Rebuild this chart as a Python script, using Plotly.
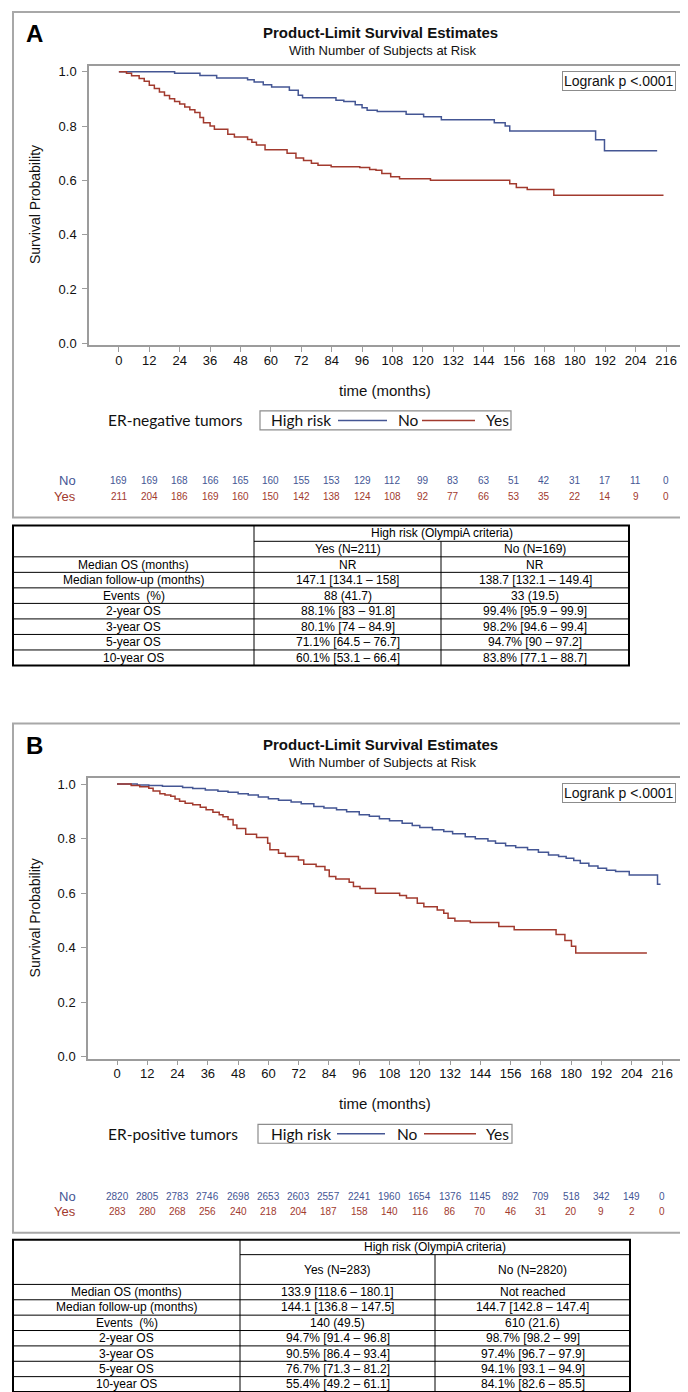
import plotly.graph_objects as go

W, H = 688, 1392

# ---------------- data ----------------
month_ticks = [0, 12, 24, 36, 48, 60, 72, 84, 96, 108, 120, 132, 144, 156, 168, 180, 192, 204, 216]

# Panel A (ER-negative) Kaplan-Meier steps
a_no_t = [0, 22, 32, 38.6, 50.8, 53.4, 57, 60.3, 67.3, 70.8, 72.5, 85.7, 88.8, 93.3, 96, 98, 102,
          113.4, 120.3, 127.3, 148.2, 152.5, 154.3, 188.2, 191.7, 212.5]
a_no_s = [1.0, 0.994, 0.986, 0.977, 0.97, 0.962, 0.952, 0.944, 0.932, 0.913, 0.904, 0.895, 0.89, 0.878,
          0.867, 0.858, 0.853, 0.843, 0.834, 0.823, 0.812, 0.80, 0.782, 0.749, 0.709, 0.709]
a_yes_t = [0, 3, 5, 8, 10, 12, 14, 16, 18, 20, 22, 24, 26, 28, 30, 32, 33.4, 36, 37.7, 43, 45.6, 50.8,
           52.5, 54.3, 57.7, 66.4, 69.9, 72.9, 76, 78.6, 83.8, 95.1, 99, 101.5, 103.8, 107.3, 110.8,
           123, 154.3, 156.9, 161.2, 171.7, 215]
a_yes_s = [1.0, 0.994, 0.985, 0.975, 0.965, 0.95, 0.938, 0.925, 0.912, 0.90, 0.89, 0.881, 0.87, 0.86,
           0.85, 0.831, 0.812, 0.80, 0.788, 0.77, 0.76, 0.75, 0.74, 0.73, 0.713, 0.70, 0.682, 0.673,
           0.663, 0.656, 0.65, 0.647, 0.64, 0.637, 0.625, 0.613, 0.606, 0.60, 0.587, 0.574, 0.566,
           0.545, 0.545]

# Panel B (ER-positive)
b_no_t = [0, 8, 12.6, 18, 26, 30, 35, 40, 44, 48, 52, 56, 60, 64, 69, 73, 78, 82, 87, 91, 96, 100,
          104, 108, 113, 117, 120, 125, 129.5, 133, 138, 142, 147, 150, 154, 158, 162.7, 167, 171,
          175, 178, 181, 183.6, 187, 190.6, 194, 197.6, 203, 214.2, 215.4]
b_no_s = [1.0, 0.997, 0.995, 0.992, 0.988, 0.984, 0.978, 0.974, 0.97, 0.965, 0.96, 0.953, 0.946,
          0.941, 0.934, 0.928, 0.918, 0.912, 0.906, 0.899, 0.888, 0.882, 0.873, 0.866, 0.856, 0.848,
          0.841, 0.833, 0.826, 0.818, 0.807, 0.80, 0.791, 0.783, 0.774, 0.767, 0.759, 0.75, 0.74,
          0.734, 0.728, 0.72, 0.71, 0.70, 0.691, 0.684, 0.679, 0.667, 0.633, 0.633]
b_yes_t = [0, 5.6, 9, 12.6, 14.3, 17, 19, 21.3, 23, 24.8, 27, 30, 33, 35.3, 38, 40.5, 42, 44, 46,
           47.5, 51, 55.3, 59.7, 60.6, 64, 66.7, 71.9, 74, 78.9, 82.4, 84.1, 86.7, 92, 93.7, 96.3,
           102.4, 112, 114.7, 119, 121.6, 126.9, 129.5, 131.2, 133.9, 140, 151.3, 157.4, 174, 177.5,
           180.1, 181.8, 210]
b_yes_s = [1.0, 0.995, 0.99, 0.985, 0.975, 0.965, 0.96, 0.955, 0.945, 0.937, 0.93, 0.924, 0.915,
           0.906, 0.897, 0.888, 0.88, 0.87, 0.85, 0.837, 0.816, 0.804, 0.783, 0.759, 0.746, 0.734,
           0.722, 0.706, 0.698, 0.685, 0.661, 0.652, 0.64, 0.624, 0.617, 0.60, 0.591, 0.582, 0.563,
           0.55, 0.538, 0.526, 0.508, 0.498, 0.492, 0.478, 0.466, 0.448, 0.426, 0.405, 0.38, 0.38]

# numbers at risk
a_risk_no = [169, 169, 168, 166, 165, 160, 155, 153, 129, 112, 99, 83, 63, 51, 42, 31, 17, 11, 0]
a_risk_yes = [211, 204, 186, 169, 160, 150, 142, 138, 124, 108, 92, 77, 66, 53, 35, 22, 14, 9, 0]
b_risk_no = [2820, 2805, 2783, 2746, 2698, 2653, 2603, 2557, 2241, 1960, 1654, 1376, 1145, 892, 709,
             518, 342, 149, 0]
b_risk_yes = [283, 280, 268, 256, 240, 218, 204, 187, 158, 140, 116, 86, 70, 46, 31, 20, 9, 2, 0]

# tables
row_labels = ["Median OS (months)", "Median follow-up (months)", "Events  (%)", "2-year OS",
              "3-year OS", "5-year OS", "10-year OS"]
a_yes_col = ["NR", "147.1 [134.1 – 158]", "88 (41.7)", "88.1% [83 – 91.8]", "80.1% [74 – 84.9]",
             "71.1% [64.5 – 76.7]", "60.1% [53.1 – 66.4]"]
a_no_col = ["NR", "138.7 [132.1 – 149.4]", "33 (19.5)", "99.4% [95.9 – 99.9]", "98.2% [94.6 – 99.4]",
            "94.7% [90 – 97.2]", "83.8% [77.1 – 88.7]"]
b_yes_col = ["133.9 [118.6 – 180.1]", "144.1 [136.8 – 147.5]", "140 (49.5)", "94.7% [91.4 – 96.8]",
             "90.5% [86.4 – 93.4]", "76.7% [71.3 – 81.2]", "55.4% [49.2 – 61.1]"]
b_no_col = ["Not reached", "144.7 [142.8 – 147.4]", "610 (21.6)", "98.7% [98.2 – 99]",
            "97.4% [96.7 – 97.9]", "94.1% [93.1 – 94.9]", "84.1% [82.6 – 85.5]"]
table_group = "High risk (OlympiA criteria)"
a_headers = ["Yes (N=211)", "No (N=169)"]
b_headers = ["Yes (N=283)", "No (N=2820)"]

# ---------------- styling ----------------
BLUE = "#445694"
RED = "#A23A2E"
GRAY = "#9c9c9c"
SANS = "Liberation Sans, Arial, sans-serif"
CAL = "Lato, Carlito, Calibri, sans-serif"


def px(x):
    return min(1.0, max(0.0, x / W))


def py(y):
    return min(1.0, max(0.0, 1 - y / H))


ann = []
shapes = []


def text(t, x, y, size, color="#111", family=SANS, xanchor="center", yanchor="middle",
         xref="paper", yref="paper", **kw):
    ann.append(dict(text=t, x=x, y=y, xref=xref, yref=yref, xanchor=xanchor, yanchor=yanchor,
                    showarrow=False, font=dict(family=family, size=size, color=color), **kw))


fig = go.Figure()

# curves
for t, s, name, col, xa, ya in [
    (a_no_t, a_no_s, "No", BLUE, "x", "y"),
    (a_yes_t, a_yes_s, "Yes", RED, "x", "y"),
    (b_no_t, b_no_s, "No", BLUE, "x2", "y2"),
    (b_yes_t, b_yes_s, "Yes", RED, "x2", "y2"),
]:
    fig.add_trace(go.Scatter(x=t, y=s, mode="lines", name=name, showlegend=False,
                             line=dict(shape="hv", color=col, width=1.5),
                             xaxis=xa, yaxis=ya, hoverinfo="skip"))

axis_common = dict(showline=True, mirror=True, linecolor=GRAY, linewidth=1.5, ticks="outside",
                   ticklen=5, tickcolor=GRAY, showgrid=False, zeroline=False, fixedrange=True,
                   tickfont=dict(family=SANS, size=13, color="#111"))
hidden = dict(visible=False, fixedrange=True, showgrid=False, zeroline=False)

layout = dict(
    width=W, height=H, margin=dict(l=0, r=0, t=0, b=0),
    paper_bgcolor="white", plot_bgcolor="white", showlegend=False,
    xaxis=dict(domain=[px(81), px(675)], range=[-11.8, 222.7], tickvals=month_ticks,
               anchor="y", ticklabelstandoff=-3, **axis_common),
    yaxis=dict(domain=[py(338), py(57)], range=[-0.0073, 1.022], tickvals=[0, 0.2, 0.4, 0.6, 0.8, 1.0],
               tickformat=".1f", anchor="x", ticklabelstandoff=3, **axis_common),
    xaxis2=dict(domain=[px(80), px(676)], range=[-11.5, 224.7], tickvals=month_ticks,
                anchor="y2", ticklabelstandoff=-3, **axis_common),
    yaxis2=dict(domain=[py(1055), py(773)], range=[-0.0073, 1.022], tickvals=[0, 0.2, 0.4, 0.6, 0.8, 1.0],
                tickformat=".1f", anchor="x2", ticklabelstandoff=3, **axis_common),
)


# ---------------- tables drawn on their own (hidden) axes, 1 unit = 1 px ----------------
def add_table(k, left, top, col_w, row_h, headers, yes_col, no_col):
    xa, ya = "x%d" % k, "y%d" % k
    total_w = sum(col_w)
    total_h = sum(row_h)
    layout["xaxis%d" % k] = dict(domain=[px(left - 2), px(left + total_w + 2)],
                                 range=[-2, total_w + 2], anchor=ya, **hidden)
    layout["yaxis%d" % k] = dict(domain=[py(top + total_h + 2), py(top - 2)],
                                 range=[total_h + 2, -2], anchor=xa, **hidden)
    cx = [0, col_w[0], col_w[0] + col_w[1], total_w]
    ry = [0]
    for h in row_h:
        ry.append(ry[-1] + h)
    line = dict(color="black", width=1)

    def seg(x0, y0, x1, y1, ln=line):
        shapes.append(dict(type="line", xref=xa, yref=ya, x0=x0, y0=y0, x1=x1, y1=y1, line=ln))

    # grid
    seg(cx[1], ry[1], cx[3], ry[1])
    for r in range(2, len(ry) - 1):
        seg(cx[0], ry[r], cx[3], ry[r])
    seg(cx[1], ry[0], cx[1], ry[-1])
    seg(cx[2], ry[1], cx[2], ry[-1])
    shapes.append(dict(type="rect", xref=xa, yref=ya, x0=0, y0=0, x1=total_w, y1=total_h,
                       line=dict(color="black", width=2)))
    # texts
    f = 12
    text(table_group, (cx[1] + cx[3]) / 2, ry[0] + row_h[0] / 2, f, "black", xref=xa, yref=ya)
    for j, hd in enumerate(headers):
        text(hd, (cx[1 + j] + cx[2 + j]) / 2, ry[1] + row_h[1] / 2, f, "black", xref=xa, yref=ya)
    for i in range(len(row_labels)):
        yc = ry[2 + i] + row_h[2 + i] / 2
        for j, v in enumerate([row_labels[i], yes_col[i], no_col[i]]):
            text(v, (cx[j] + cx[j + 1]) / 2, yc, f, "black", xref=xa, yref=ya)


add_table(3, 5, 519, [241, 187, 188], [16, 15.6] + [15.6] * 7, a_headers, a_yes_col, a_no_col)
add_table(4, 5, 1237, [227, 195, 195], [15, 30] + [15.5] * 7, b_headers, b_yes_col, b_no_col)

fig.update_layout(**layout)

# ---------------- panel decorations ----------------
for (top, bottom, letter, title_y, sub_y, xlab_y, leg_top, leg_bot, leg_x0, leg_x1, risk_no_y,
     risk_yes_y, xa, grp, rno, ryes, ylab_y, logr_top, key_x) in [
    (3, 511, "A", 24, 42, 383, 404, 423, 252, 503, 474, 490, "x", "ER-negative tumors",
     a_risk_no, a_risk_yes, 197, 62, (261, 330, 379, 388, 414, 467, 476)),
    (718, 1230, "B", 739, 757, 1100, 1121, 1140, 250, 504, 1193, 1209, "x2", "ER-positive tumors",
     b_risk_no, b_risk_yes, 914, 778, (261, 329, 377, 387, 416, 468, 476)),
]:
    shapes.append(dict(type="rect", xref="paper", yref="paper", x0=px(5), x1=px(683),
                       y0=py(bottom), y1=py(top), line=dict(color="#a8a8a8", width=2)))
    text("<b>%s</b>" % letter, px(26), py(title_y + 1), 24, "black")
    text("<b>Product-Limit Survival Estimates</b>", px(372), py(title_y), 15)
    text("With Number of Subjects at Risk", px(375), py(sub_y), 13)
    text("Survival Probability", px(27), py(ylab_y), 14, textangle=-90)
    text("time (months)", px(377), py(xlab_y), 15)
    text("Logrank p <.0001", px(668), py(logr_top), 14, xanchor="right", yanchor="top",
         bgcolor="white", bordercolor="#8c8c8c", borderwidth=1, borderpad=1)

    # group key (legend)
    yc = (leg_top + leg_bot) / 2
    text(grp, px(98), py(yc), 15.5, family=CAL, xanchor="left")
    shapes.append(dict(type="rect", xref="paper", yref="paper", x0=px(leg_x0), x1=px(leg_x1),
                       y0=py(leg_bot), y1=py(leg_top), line=dict(color="#8c8c8c", width=1.2),
                       fillcolor="white"))
    t0, l1a, l1b, tno, l2a, l2b, tyes = key_x
    text("High risk", px(t0), py(yc), 15.5, family=CAL, xanchor="left")
    shapes.append(dict(type="line", xref="paper", yref="paper", x0=px(l1a), x1=px(l1b),
                       y0=py(yc), y1=py(yc), line=dict(color=BLUE, width=1.5)))
    text("No", px(tno), py(yc), 15.5, family=CAL, xanchor="left")
    shapes.append(dict(type="line", xref="paper", yref="paper", x0=px(l2a), x1=px(l2b),
                       y0=py(yc), y1=py(yc), line=dict(color=RED, width=1.5)))
    text("Yes", px(tyes), py(yc), 15.5, family=CAL, xanchor="left")

    # numbers at risk
    text("No", px(70), py(risk_no_y), 13, BLUE, xanchor="right")
    text("Yes", px(70), py(risk_yes_y), 13, RED, xanchor="right")
    for i, t in enumerate(month_ticks):
        text(str(rno[i]), t, py(risk_no_y), 10, BLUE, xref=xa)
        text(str(ryes[i]), t, py(risk_yes_y), 10, RED, xref=xa)

fig.update_layout(annotations=ann, shapes=shapes)
fig.write_html("out.html")
